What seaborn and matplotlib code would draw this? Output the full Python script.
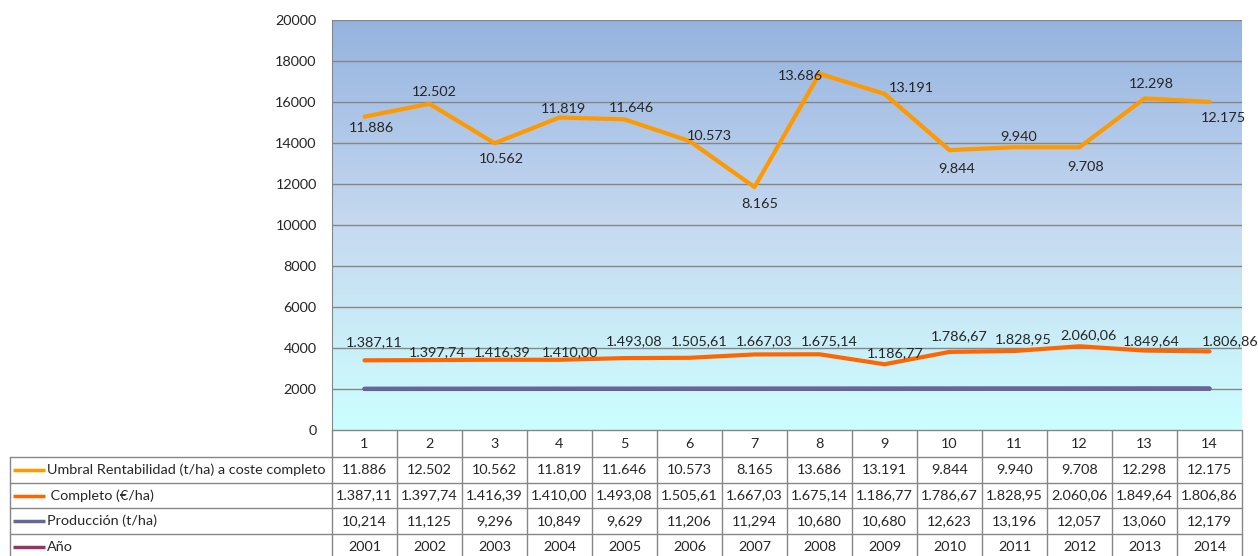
import numpy as np
import pandas as pd
import matplotlib
matplotlib.use('Agg')
import matplotlib.pyplot as plt
import matplotlib.transforms as mtransforms
from matplotlib.colors import LinearSegmentedColormap
import seaborn as sns

# datos de la tabla
periodos = list(range(1, 15))
anios = [2001, 2002, 2003, 2004, 2005, 2006, 2007, 2008, 2009, 2010, 2011, 2012, 2013, 2014]
produccion = [10.214, 11.125, 9.296, 10.849, 9.629, 11.206, 11.294, 10.680, 10.680,
              12.623, 13.196, 12.057, 13.060, 12.179]
completo = [1387.11, 1397.74, 1416.39, 1410.00, 1493.08, 1505.61, 1667.03, 1675.14, 1186.77,
            1786.67, 1828.95, 2060.06, 1849.64, 1806.86]
umbral = [11886, 12502, 10562, 11819, 11646, 10573, 8165, 13686, 13191, 9844, 9940, 9708, 12298, 12175]

nombres = ['Umbral Rentabilidad (t/ha) a coste completo', ' Completo (€/ha)', 'Producción (t/ha)', 'Año']
colores = ['#FF9900', '#FF6600', '#666699', '#993366']

# desplazamientos de las etiquetas (pixeles)
off_umbral = [(7, -11), (5, 12), (7, -16), (4, 9), (7, 11), (20, 5), (5, -17), (-19, -2),
              (27, 6), (7, -19), (4, 10), (6, -20), (7, 14), (14, -16)]
off_completo = [(10, 18), (8, 8), (8, 8), (11, 8), (10, 17), (10, 17), (10, 13), (10, 13),
                (11, 11), (10, 16), (9, 12), (9, 11), (7, 9), (21, 10)]

FS = 10.4


def miles(v):
    return f'{v:,.0f}'.replace(',', '.')


def euros(v):
    return f'{v:,.2f}'.replace(',', 'X').replace('.', ',').replace('X', '.')


def tres(v):
    return f'{v:.3f}'.replace('.', ',')


# linea apilada (como en excel)
x = np.arange(len(periodos))
acum_anio = np.array(anios, dtype=float)
acum_prod = acum_anio + np.array(produccion)
acum_comp = acum_prod + np.array(completo)
acum_umb = acum_comp + np.array(umbral)

df = pd.concat([
    pd.DataFrame({'x': x, 'y': acum_anio, 'serie': 'Año'}),
    pd.DataFrame({'x': x, 'y': acum_prod, 'serie': 'Producción (t/ha)'}),
    pd.DataFrame({'x': x, 'y': acum_comp, 'serie': ' Completo (€/ha)'}),
    pd.DataFrame({'x': x, 'y': acum_umb, 'serie': 'Umbral Rentabilidad (t/ha) a coste completo'}),
])

sns.set_style('white')
plt.rcParams['font.family'] = ['Lato', 'DejaVu Sans']

fig = plt.figure(figsize=(12.58, 5.56), dpi=100)
ax = fig.add_axes([332 / 1258, 126 / 556, 910 / 1258, 410 / 556])

# fondo degradado
cmap = LinearSegmentedColormap.from_list('fondo', [(0, '#CCFFFF'), (0.5, '#C6D9F0'), (1, '#95B3DF')])
grad = np.linspace(1, 0, 256).reshape(-1, 1)
ax.imshow(grad, extent=[-0.5, 13.5, 0, 20000], aspect='auto', cmap=cmap, zorder=0)

for yv in range(2000, 20001, 2000):
    ax.axhline(yv, color='#868686', lw=1, zorder=1)

sns.lineplot(data=df, x='x', y='y', hue='serie', hue_order=nombres[::-1],
             palette=dict(zip(nombres, colores)), linewidth=3, legend=False,
             sort=False, ax=ax, zorder=3)

for i in range(len(x)):
    ax.annotate(miles(umbral[i]), (x[i], acum_umb[i]), xytext=off_umbral[i],
                textcoords='offset pixels', ha='center', va='center', fontsize=FS, zorder=5)
    ax.annotate(euros(completo[i]), (x[i], acum_comp[i]), xytext=off_completo[i],
                textcoords='offset pixels', ha='center', va='center', fontsize=FS, zorder=5)

ax.set_xlim(-0.5, 13.5)
ax.set_ylim(0, 20000)
ax.set_yticks(range(0, 20001, 2000))
ax.set_xticks([])
ax.set_xlabel('')
ax.set_ylabel('')
ax.tick_params(axis='y', length=5, color='#868686', labelsize=FS, pad=6)
for s in ['top', 'right', 'bottom']:
    ax.spines[s].set_visible(False)
ax.spines['left'].set_color('#868686')

# tabla de datos bajo el grafico
tr = mtransforms.blended_transform_factory(ax.transData, ax.transAxes)
h = 1 / 410
filas = [0, -27 * h, -53 * h, -78 * h, -104 * h, -130 * h]
izq = (10 - 332) / 910
lc = '#868686'
for yv in filas:
    if yv == 0:
        ax.plot([-0.5, 13.5], [yv, yv], transform=tr, color=lc, lw=1, clip_on=False)
    else:
        ax.plot([izq, 1], [yv, yv], transform=ax.transAxes, color=lc, lw=1, clip_on=False)
for k in range(15):
    ax.plot([k - 0.5, k - 0.5], [filas[0], filas[-1]], transform=tr, color=lc, lw=1, clip_on=False)
ax.plot([izq, izq], [filas[1], filas[-1]], transform=ax.transAxes, color=lc, lw=1, clip_on=False)

textos = [[miles(v) for v in umbral], [euros(v) for v in completo],
          [tres(v) for v in produccion], [str(v) for v in anios]]
for i in range(len(x)):
    ax.text(x[i], (filas[0] + filas[1]) / 2, str(periodos[i]), transform=tr,
            ha='center', va='center', fontsize=FS)
    for r in range(4):
        ax.text(x[i], (filas[r + 1] + filas[r + 2]) / 2, textos[r][i], transform=tr,
                ha='center', va='center', fontsize=FS)

for r in range(4):
    yc = (filas[r + 1] + filas[r + 2]) / 2
    ax.plot([(13 - 332) / 910, (45 - 332) / 910], [yc, yc], transform=ax.transAxes,
            color=colores[r], lw=2.5, clip_on=False, solid_capstyle='butt')
    ax.text((47 - 332) / 910, yc, nombres[r], transform=ax.transAxes,
            ha='left', va='center', fontsize=FS)

fig.savefig('out.png', dpi=100)
